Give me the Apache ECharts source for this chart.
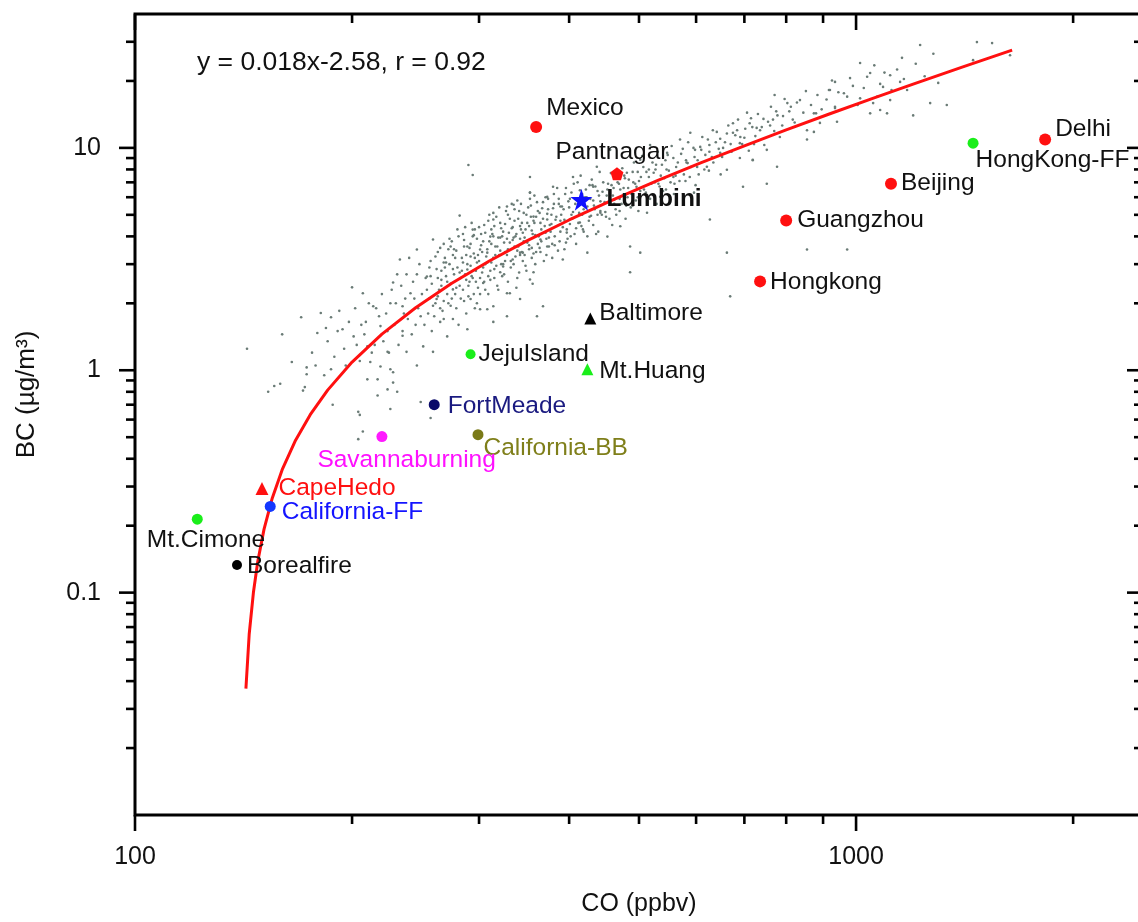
<!DOCTYPE html>
<html>
<head>
<meta charset="utf-8">
<title>BC vs CO</title>
<script src="https://cdn.jsdelivr.net/npm/echarts@6/dist/echarts.min.js"></script>
<style>
  html, body { margin: 0; padding: 0; background: #fff; overflow: hidden; }
  #mychart { width: 1150px; height: 922px; }
</style>
</head>
<body>
<div id="mychart"></div>
<script>
// 背景散点 (CO ppbv, BC ug/m3)
const backgroundPoints = [
  [143,1.25],[153,0.80],[159,0.87],[160,1.45],[170,1.73],[165,1.09],[172,0.84],[173,1.03],[179,1.47],[181,1.81],
  [187,1.73],[191,1.50],[194,1.53],[200,2.36],[201,1.42],[207,2.22],[209,1.65],[210,1.28],[212,1.09],[214,1.94],
  [217,0.91],[219,1.58],[224,1.21],[226,1.01],[228,2.48],[233,3.15],[235,1.94],[235,1.43],[241,2.22],[246,3.49],
  [249,1.75],[251,1.28],[254,2.64],[259,3.87],[262,2.09],[265,1.65],[268,3.05],[274,3.60],[276,2.31],[282,4.96],
  [289,2.84],[292,2.09],[294,4.29],[301,3.49],[304,2.47],[308,1.88],[314,5.1],[321,3.95],[324,2.93],[331,2.22],
  [335,5.55],[342,4.45],[345,3.38],[353,2.56],[357,4.91],[365,3.87],[368,1.94],[373,6.02],[290,8.38],[294,7.55],
  [353,7.40],
  [205,0.63],[210,0.91],[217,0.77],[219,1.04],[224,0.82],[226,0.67],[228,0.88],[238,1.21],[246,1.05],[259,1.21],
  [271,1.42],[276,1.70],[289,1.53],[301,1.88],[314,1.65],[328,1.75],[342,2.09],[361,1.75],
  [204,0.65],[207,0.53],[204,0.49],[156,0.85],[171,0.81],[188,0.70],[173,0.96],[187,1.01],[228,0.98],[231,0.80],
  [249,0.72],[257,0.61],
  [314,4.76],[328,5.45],[335,3.95],[342,3.38],[353,6.29],[357,2.76],[373,4.76],[373,3.60],[380,6.69],[389,5.45],
  [392,3.15],[397,4.16],[405,7.40],[414,4.62],[424,3.38],[432,6.69],[437,8.22],[442,5.11],[452,3.99],[462,5.85],
  [471,4.44],[481,7.73],[486,3.60],[496,6.69],[502,8.84],[513,5.11],[524,7.73],[535,6.03],[547,9.5],[558,7.40],
  [570,10.9],[584,8.54],[596,6.29],[608,10.1],[621,8.22],[633,12.0],[648,9.5],[662,7.97],[675,12.9],[690,10.5],
  [706,14.4],[719,8.84],[736,12.0],[752,9.8],[767,13.4],[784,11.2],[803,15.9],[817,13.4],[836,16.4],[855,10.9],
  [874,14.3],[917,18.2],[935,15.3],[972,17.0],[1013,24.1],[1036,20.9],[1056,15.9],[1080,19.4],[1104,14.3],[777,8.22],
  [697,6.69],[627,4.76],[662,3.38],[502,3.38],[486,2.76],[308,3.38],[321,2.76],[311,3.99],[328,2.22],[314,1.94],
  [1227,29.0],[1471,29.9],[1544,29.6],[1635,26.1],[1453,24.8],[1158,25.4],[981,20.6],[1046,21.7],[1115,21.2],[935,19.8],
  [920,18.2],[962,17.6],[1090,18.8],[1151,19.8],[1177,18.2],[1013,16.7],[1070,17.0],[1115,16.4],[880,14.3],[935,15.1],
  [1046,14.3],[1080,14.8],[1267,15.9],[1336,15.6],[1200,14.0],[855,12.0],[891,12.95],[941,13.1],[874,11.8],
  [752,6.9],[855,3.49],[972,3.49],[669,2.15],[771,17.3],[675,11.7],[456,9.8],[589,11.7],[518,10.3],
  [258,1.5],[261,2.0],[263,2.6],[257,3.1],[268,1.7],[271,2.2],[269,2.9],[272,3.5],
  [279,1.9],[282,2.4],[278,3.2],[281,4.0],[288,1.8],[291,2.5],[289,3.0],[292,3.7],[287,4.4],
  [298,2.0],[301,2.6],[299,3.3],[302,4.1],[309,2.2],[311,2.8],[308,3.5],[312,4.3],[310,5.0],
  [319,2.3],[322,3.0],[318,3.6],[321,4.6],[329,2.5],[332,3.1],[328,3.9],[331,4.8],[333,5.6],
  [339,2.6],[342,3.3],[338,4.1],[341,5.2],[349,2.8],[352,3.5],[348,4.3],[351,5.4],[353,6.3],
  [359,3.0],[362,3.7],[358,4.6],[361,5.7],[369,3.1],[372,3.9],[368,4.8],[371,6.0],
  [379,3.2],[382,4.0],[378,5.0],[381,6.2],[394,3.5],[397,4.3],[393,5.3],[396,6.6],
  [409,3.7],[412,4.6],[408,5.6],[411,7.0],[424,4.0],[427,4.9],[423,6.0],
  [439,4.2],[442,5.2],[438,6.4],[441,7.8],[459,4.5],[462,5.6],[458,6.8],
  [479,4.8],[482,6.0],[478,7.3],[499,5.2],[502,6.4],[498,7.8],[529,5.6],[532,6.9],[528,8.4],
  [559,6.2],[562,7.5],[558,9.0],[599,6.8],[602,8.2],[598,9.8],[649,7.6],[652,9.1],[648,11.0],
  [719,8.8],[722,10.4],[718,12.4],
  [265,1.9],[266,2.8],[275,2.1],[276,3.3],[285,2.3],[284,2.8],[286,3.6],[295,2.2],[296,3.2],[294,4.0],
  [305,2.5],[306,3.0],[304,3.8],[315,2.6],[316,3.3],[314,4.0],[325,2.7],[326,3.4],[324,4.2],
  [335,3.0],[336,3.6],[334,4.4],[345,3.1],[346,3.8],[344,4.6],[355,3.2],[356,4.1],[354,4.9],
  [365,3.4],[366,4.3],[364,5.1],[375,3.6],[376,4.5],[374,5.3],[388,3.8],[389,4.7],[387,5.6],
  [402,4.0],[403,5.0],[401,5.9],[418,4.3],[419,5.3],[417,6.2],[432,4.5],[433,5.5],[431,6.8],
  [450,4.9],[451,6.1],[470,5.2],[471,6.5],[490,5.5],[491,7.0],[515,6.0],[516,7.4],
  [545,6.5],[546,8.0],[580,7.1],[581,8.8],[625,7.9],[626,9.6],[690,9.0],[691,11.2],
  [205,1.1],[206,1.6],[215,1.3],[216,1.9],[225,1.2],[224,1.5],[226,2.0],[235,1.5],[236,1.8],[234,2.4],
  [245,1.6],[244,2.1],[246,2.7],[255,1.8],[254,2.3],[256,2.9],
  [176,1.2],[183,0.95],[185,1.35],[189,1.15],[192,1.85],[196,1.05],[198,1.65],[184,1.55],[178,1.05],[195,1.25],
  [202,1.9],[203,1.3],[208,1.45],[211,2.0],[213,1.2],[218,1.75],[220,2.2],[221,1.35],[223,1.8],[227,2.3],
  [229,1.6],[230,2.0],[232,1.3],[237,2.1],[238,2.7],[239,1.7],[242,1.45],[243,2.5],[247,1.9],[248,3.0],
  [250,2.2],[252,1.6],[253,2.6],[240,3.2],[231,2.7],
  [256,2.1],[258,2.45],[260,1.75],[262,2.85],[263,3.4],[264,2.3],[266,2.55],[267,1.85],[269,3.2],[270,2.65],
  [272,2.0],[273,3.0],[274,2.45],[275,3.8],[277,2.7],[278,2.2],[279,3.45],[280,2.9],[281,1.6],[283,2.6],
  [284,3.2],[285,4.1],[286,2.05],[287,2.7],[288,3.3],[290,2.4],[291,3.55],[292,2.95],[293,4.6],[294,2.6],
  [295,3.35],[296,1.9],[297,2.8],[298,3.9],[299,2.35],[300,3.1],[302,3.65],[303,2.75],[296,4.3],[268,3.7],
  [305,4.5],[306,2.3],[307,3.25],[309,2.65],[310,3.8],[312,3.05],[313,4.1],[315,2.85],[316,3.6],[317,4.9],
  [318,2.4],[320,3.3],[322,4.35],[323,2.65],[325,3.75],[326,3.1],[327,5.2],[329,3.5],[330,4.15],[332,2.9],
  [334,3.85],[336,4.7],[337,3.25],[339,5.8],[340,3.6],[341,2.75],[343,4.3],[344,3.4],[346,5.1],[347,3.95],
  [348,2.95],[350,4.6],[352,3.65],[354,5.5],[355,4.25],[357,3.35],[358,6.1],[360,4.9],[356,2.45],[338,2.35],
  [363,4.0],[364,3.55],[367,5.35],[370,4.45],[372,3.3],[374,5.9],[377,4.2],[379,3.7],[381,5.6],[383,4.75],
  [385,6.6],[386,3.45],[390,5.0],[392,4.4],[395,6.2],[398,3.9],[400,5.4],[404,4.8],[406,6.9],[407,4.1],
  [410,5.9],[413,5.1],[415,7.5],[416,4.45],[420,5.55],[422,6.5],[426,4.7],[428,5.9],[430,7.2],[434,5.3],
  [436,4.1],[440,6.1],[444,5.0],[446,7.0],[448,5.7],[452,6.5],[455,4.8],[457,7.7],[460,6.1],[464,5.3],
  [467,7.0],[470,5.9],[474,8.1],[476,6.6],[480,5.5],[484,7.2],[488,6.2],[492,8.6],[495,5.8],[500,7.1],
  [505,9.2],[508,6.5],[512,7.8],[518,5.9],[522,8.6],[526,7.0],[531,9.6],[536,7.5],[540,6.4],[544,8.8],
  [550,7.9],[555,10.2],[560,6.9],[566,8.6],[572,9.4],[577,7.6],[585,10.6],[590,8.2],[597,9.1],[605,7.6],
  [612,11.2],[618,9.3],[626,10.3],[634,8.6],[641,11.8],[645,9.9],
  [658,10.6],[665,12.6],[672,9.6],[680,11.4],[686,13.4],[695,10.4],[702,12.2],[710,9.7],[715,13.6],[725,11.3],
  [731,14.2],[740,12.4],[746,10.3],[755,13.1],[762,15.3],[770,11.9],[778,14.0],[790,12.6],[796,16.6],[808,14.6],
  [822,13.0],[828,16.0],[845,14.4],[852,18.0],[866,15.6],[884,17.3],[896,14.9],[910,16.5],[926,20.1],[945,17.8],
  [990,19.0],[1005,15.6],[1025,18.6],[1060,23.5],[1095,21.8],[1120,18.2],[1140,22.5],[1165,20.4],[1210,23.9],[1245,21.0],
  [1280,26.5],[1300,19.6],
  [257,2.65],[259,1.95],[261,3.25],[263,2.15],[265,3.55],[266,2.4],[268,2.05],[270,3.05],[271,2.5],[273,3.9],
  [274,1.95],[276,2.85],[277,3.5],[279,2.35],[280,4.3],[282,2.75],[283,2.1],[285,3.05],[286,3.85],[288,2.55],
  [289,3.6],[290,2.15],[292,3.25],[293,2.65],[295,4.05],[297,2.5],[298,3.05],[300,4.4],[301,2.2],[303,3.4],
  [304,2.9],[306,4.15],[308,3.05],[309,4.7],[311,2.55],[312,3.7],[314,3.2],[315,4.45],[317,2.95],[319,3.95],
  [320,5.4],[321,3.45],[323,4.0],[324,3.0],[326,4.55],[328,3.3],[329,5.0],[331,3.75],[333,4.35],[334,3.15],
  [336,5.3],[337,4.0],[339,3.45],[340,4.8],[342,3.9],[343,5.6],[345,4.15],[347,3.3],[349,5.0],[350,3.75],
  [352,4.45],[353,5.9],[355,3.55],[357,4.7],[359,4.05],[360,3.4],
  [362,5.2],[365,4.6],[366,3.8],[368,5.7],[371,4.15],[373,5.05],[375,3.95],[378,4.55],[380,5.35],[382,3.65],
  [384,4.9],[387,5.9],[389,4.2],[391,5.45],[394,4.75],[396,3.75],[399,5.75],[401,4.55],[403,6.3],[405,5.15],
  [409,4.35],[412,5.6],[414,6.45],[417,5.0],[419,4.2],[421,6.0],[424,5.45],[427,6.8],[429,4.95],[432,5.8],
  [435,6.7],[438,5.0],[442,5.75],[445,6.35],[449,5.15],[453,6.9],[456,5.7],[461,6.6],[465,5.0],[469,6.9],
  [473,5.6],[477,7.5],
  [483,6.6],[487,5.4],[490,7.8],[494,6.9],[498,6.0],[503,7.4],[507,8.2],[511,6.3],[516,8.0],[520,6.9],
  [527,8.0],[534,6.7],[538,8.4],[542,7.3],[548,9.3],[553,7.0],[563,8.2],[569,7.1],[575,9.9],[582,8.6],
  [588,7.4],[595,10.0],[603,8.8],[610,9.8],[616,8.0],[623,10.9],[631,9.1],[639,10.6],[654,10.0],[662,11.6],
  [670,10.4],[684,12.0],[700,11.1],[712,12.9],[728,12.3],[744,13.5],[760,12.6],[775,14.6],[792,13.9],[812,15.3]
];

// 拟合曲线 y = 0.018x-2.58 (沿图上的红线读点)
const fitCurve = [
  [142.5,0.037],[144,0.065],[146,0.101],[148,0.138],[151,0.193],[155,0.266],[160,0.357],
  [167,0.485],[175,0.631],[185,0.814],[200,1.088],[220,1.453],[245,1.91],[275,2.46],
  [310,3.10],[350,3.83],[400,4.74],[460,5.84],[530,7.12],[610,8.58],[700,10.22],
  [800,12.05],[920,14.24],[1050,16.62],[1200,19.36],[1400,23.01],[1646,27.5]
];

// 站点
const stationNames = ['Mexico','Pantnagar','Lumbini','Delhi','HongKong-FF','Beijing','Guangzhou','Hongkong',
  'Baltimore','JejuIsland','Mt.Huang','FortMeade','California-BB','Savannaburning','CapeHedo',
  'California-FF','Mt.Cimone','Borealfire'];
const stationCO = [360, 466, 416, 1829, 1453, 1118, 800, 736, 428, 292, 424, 260, 299, 220, 150, 154, 122, 138.5];
const stationBC = [12.4, 7.65, 5.85, 10.9, 10.5, 6.9, 4.71, 2.51, 1.71, 1.18, 1.01, 0.70, 0.513, 0.503, 0.294, 0.244, 0.214, 0.133];

// 刻度
const xMajorTicks = [100, 1000];
const xMinorTicks = [200, 300, 400, 500, 600, 700, 800, 900, 2000];
const yMajorTicks = [0.1, 1, 10];
const yMinorTicks = [0.02, 0.03, 0.04, 0.05, 0.06, 0.07, 0.08, 0.09,
  0.2, 0.3, 0.4, 0.5, 0.6, 0.7, 0.8, 0.9, 2, 3, 4, 5, 6, 7, 8, 9, 20, 30];

const equationText = 'y = 0.018x-2.58, r = 0.92';

// 样式 (与数据分开)
const RED = '#ff1010', GREEN = '#1aee1a', BLACK = '#000000';
const STAR = 'path://M50,0 L61,35 L98,35 L68,57 L79,91 L50,70 L21,91 L32,57 L2,35 L39,35 Z';
const PENTAGON = 'path://M50,0 L100,38 L81,100 L19,100 L0,38 Z';
const TXT = '#111111';
const stationStyle = {
  'Mexico':        { symbol: 'circle', size: 12, color: RED, text: TXT, off: [4, -19] },
  'Pantnagar':     { symbol: PENTAGON, size: 13, color: RED, text: TXT, off: [-68, -22] },
  'Lumbini':       { symbol: STAR, size: 22, color: '#1010ff', text: TXT, off: [14, 0], bold: true },
  'Delhi':         { symbol: 'circle', size: 12, color: RED, text: TXT, off: [4, -10] },
  'HongKong-FF':   { symbol: 'circle', size: 11, color: GREEN, text: TXT, off: [-3, 17] },
  'Beijing':       { symbol: 'circle', size: 12, color: RED, text: TXT, off: [4, 0] },
  'Guangzhou':     { symbol: 'circle', size: 12, color: RED, text: TXT, off: [5, 0] },
  'Hongkong':      { symbol: 'circle', size: 12, color: RED, text: TXT, off: [4, 1] },
  'Baltimore':     { symbol: 'triangle', size: 12, color: BLACK, text: TXT, off: [3, -5] },
  'JejuIsland':    { symbol: 'circle', size: 10, color: GREEN, text: TXT, off: [3, 0] },
  'Mt.Huang':      { symbol: 'triangle', size: 12, color: GREEN, text: TXT, off: [6, 2] },
  'FortMeade':     { symbol: 'circle', size: 11, color: '#0a0a6a', text: '#1a1a80', off: [8, 2] },
  'California-BB': { symbol: 'circle', size: 11, color: '#7a7a18', text: '#7f7f1a', off: [0, 14] },
  'Savannaburning':{ symbol: 'circle', size: 11, color: '#ff1aff', text: '#ff10ff', off: [-70, 24] },
  'CapeHedo':      { symbol: 'triangle', size: 13, color: RED, text: '#ff1010', off: [10, 0] },
  'California-FF': { symbol: 'circle', size: 11, color: '#1438ff', text: '#1414ff', off: [6, 6] },
  'Mt.Cimone':     { symbol: 'circle', size: 11, color: GREEN, text: TXT, off: [-56, 21] },
  'Borealfire':    { symbol: 'circle', size: 10, color: BLACK, text: TXT, off: [5, 1] }
};

const FONT = "'Liberation Sans', Arial, sans-serif";

function isPow10(v) {
  const l = Math.log10(v);
  return Math.abs(l - Math.round(l)) < 1e-6;
}

// 坐标轴刻度：下/上 (x)，左/右 (y)
function renderTick(params, api) {
  const kind = api.value(2);
  const len = api.value(3) ? 16 : 9;
  const cs = params.coordSys;
  const st = { stroke: '#000', lineWidth: 2.6 };
  if (kind === 0) {
    const x = api.coord([api.value(0), 1])[0];
    const yb = cs.y + cs.height, yt = cs.y;
    return { type: 'group', children: [
      { type: 'line', shape: { x1: x, y1: yb, x2: x, y2: yb + len }, style: st },
      { type: 'line', shape: { x1: x, y1: yt, x2: x, y2: yt + len }, style: st }
    ]};
  }
  const y = api.coord([1000, api.value(1)])[1];
  const xl = cs.x, xr = cs.x + cs.width;
  return { type: 'group', children: [
    { type: 'line', shape: { x1: xl - len, y1: y, x2: xl, y2: y }, style: st },
    { type: 'line', shape: { x1: xr - len, y1: y, x2: xr, y2: y }, style: st }
  ]};
}

function initChart() {
  const mychart = echarts.init(document.getElementById('mychart'));

  const tickData = []
    .concat(xMajorTicks.map(v => [v, 1, 0, 1]))
    .concat(xMinorTicks.map(v => [v, 1, 0, 0]))
    .concat(yMajorTicks.map(v => [1000, v, 1, 1]))
    .concat(yMinorTicks.map(v => [1000, v, 1, 0]));

  const stationData = stationNames.map((name, i) => {
    const s = stationStyle[name];
    return {
      name: name,
      value: [stationCO[i], stationBC[i]],
      symbol: s.symbol,
      symbolSize: s.size,
      itemStyle: { color: s.color, opacity: 1 },
      label: {
        show: true,
        position: 'right',
        distance: 0,
        offset: s.off,
        formatter: name,
        color: s.text,
        fontSize: 24.5,
        fontFamily: FONT,
        fontWeight: s.bold ? 'bold' : 'normal'
      }
    };
  });

  const options = {
    animation: false,
    backgroundColor: '#fff',
    grid: {
      left: 135, top: 14, width: 1008, height: 804,
      show: true, borderColor: '#000', borderWidth: 3, backgroundColor: 'transparent'
    },
    xAxis: {
      type: 'log', logBase: 10, min: 100, max: 2500,
      name: 'CO (ppbv)', nameLocation: 'middle', nameGap: 77,
      nameTextStyle: { fontSize: 25, color: TXT, fontFamily: FONT },
      axisLine: { show: false },
      axisTick: { show: false },
      splitLine: { show: false },
      axisLabel: {
        margin: 30, fontSize: 25, color: TXT, fontFamily: FONT,
        showMaxLabel: false,
        formatter: v => isPow10(v) ? String(Math.round(v)) : ''
      }
    },
    yAxis: {
      type: 'log', logBase: 10, min: 0.01, max: 40,
      name: 'BC (µg/m³)', nameLocation: 'middle', nameGap: 95,
      nameTextStyle: { fontSize: 26, color: TXT, fontFamily: FONT, padding: [0, 0, 0, 40] },
      axisLine: { show: false },
      axisTick: { show: false },
      splitLine: { show: false },
      axisLabel: {
        margin: 34, fontSize: 25, color: TXT, fontFamily: FONT,
        showMaxLabel: false,
        formatter: v => (isPow10(v) && v > 0.05) ? String(Number(v.toPrecision(6))) : ''
      }
    },
    graphic: [{
      type: 'text', left: 197, top: 49,
      style: { text: equationText, fill: TXT, font: '26.5px ' + FONT }
    }],
    series: [
      {
        name: 'background', type: 'scatter', data: backgroundPoints,
        symbol: 'circle', symbolSize: 2.6, silent: true, z: 1, large: false,
        itemStyle: { color: '#6a7b76', opacity: 1 }
      },
      {
        name: 'fit', type: 'line', data: fitCurve, symbol: 'none', silent: true, z: 2,
        lineStyle: { color: '#ff1010', width: 3 }
      },
      {
        name: 'stations', type: 'scatter', data: stationData, z: 3, silent: true
      },
      {
        name: 'ticks', type: 'custom', data: tickData, renderItem: renderTick,
        silent: true, z: 5, clip: false
      }
    ]
  };
  mychart.setOption(options);
}

initChart();
</script>
</body>
</html>
